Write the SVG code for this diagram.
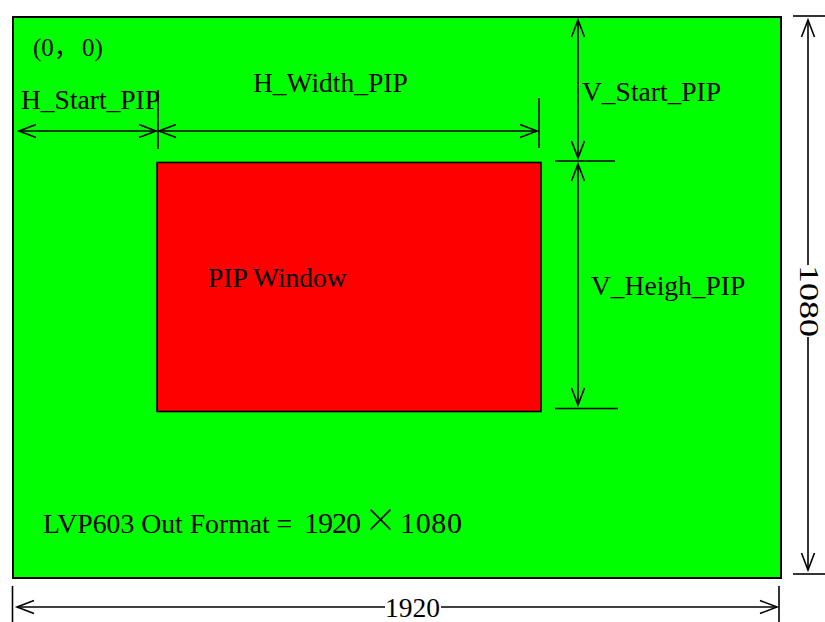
<svg xmlns="http://www.w3.org/2000/svg" width="825" height="622" viewBox="0 0 825 622">
<style>
text{font-family:"Liberation Serif","Times New Roman",serif;fill:#000;}
.lbl{font-size:27.5px;}
.ln{stroke:#000;stroke-width:1.6;fill:none;}
.arr2{stroke:#000;stroke-width:1.6;fill:none;marker-start:url(#ah);marker-end:url(#ah);}
</style>
<defs>
<marker id="ah" markerUnits="userSpaceOnUse" markerWidth="24" markerHeight="20" viewBox="-20 -10 24 20" refX="0" refY="0" orient="auto-start-reverse">
<path d="M-17,-6.5 L0,0 L-17,6.5" fill="none" stroke="#000" stroke-width="1.6"/>
</marker>
</defs>
<rect width="825" height="622" fill="#fff"/>
<g id="screen">
<rect x="13" y="17" width="768" height="561" fill="#00ff00" stroke="#000" stroke-width="2"/>
<text x="33" y="56" style="font-size:25px">(0<tspan font-family="Noto Sans CJK SC">，</tspan></text>
<text x="82" y="56" style="font-size:25px">0)</text>
<text x="43" y="533" style="font-size:27.7px">LVP603 Out Format = </text>
<text x="304" y="533" style="font-size:30px" textLength="57">1920</text>
<text x="364" y="532" style="font-size:33px;font-family:'Noto Sans CJK SC',sans-serif;font-weight:300">×</text>
<text x="400" y="533" style="font-size:30px" textLength="62">1080</text>
</g>
<g id="pip-window">
<rect x="157" y="162.5" width="384" height="249" fill="#ff0000" stroke="#000" stroke-width="1.6"/>
<text class="lbl" x="208" y="287">PIP Window</text>
</g>
<g id="connectors">
<line class="arr2" x1="19" y1="131" x2="156" y2="131"/>
<line class="ln" x1="158" y1="90" x2="158" y2="149"/>
<line class="arr2" x1="159" y1="131" x2="537" y2="131"/>
<line class="ln" x1="539" y1="98" x2="539" y2="148"/>
<line class="arr2" x1="578" y1="20" x2="578" y2="158"/>
<line class="ln" x1="555" y1="161" x2="615" y2="161"/>
<line class="arr2" x1="578" y1="164" x2="578" y2="405"/>
<line class="ln" x1="555" y1="408.5" x2="618" y2="408.5"/>
<line class="ln" x1="793" y1="16" x2="825" y2="16"/>
<line class="ln" x1="793" y1="574" x2="825" y2="574"/>
<path class="ln" d="M808,265 L808,20" style="marker-end:url(#ah)"/>
<path class="ln" d="M808,337 L808,570" style="marker-end:url(#ah)"/>
<line class="ln" x1="12.5" y1="586" x2="12.5" y2="622"/>
<line class="ln" x1="779" y1="586" x2="779" y2="622"/>
<path class="ln" d="M385,607 L17,607" style="marker-end:url(#ah)"/>
<path class="ln" d="M441,607 L777,607" style="marker-end:url(#ah)"/>
</g>
<g id="labels">
<text class="lbl" x="21" y="109">H_Start_PIP</text>
<text class="lbl" x="253" y="92">H_Width_PIP</text>
<text class="lbl" x="582" y="101">V_Start_PIP</text>
<text class="lbl" x="591" y="295">V_Heigh_PIP</text>
<text class="lbl" x="385" y="617">1920</text>
<text class="lbl" transform="translate(800,265) rotate(90)" x="0" y="0" textLength="72" lengthAdjust="spacingAndGlyphs">1080</text>
</g>
</svg>
